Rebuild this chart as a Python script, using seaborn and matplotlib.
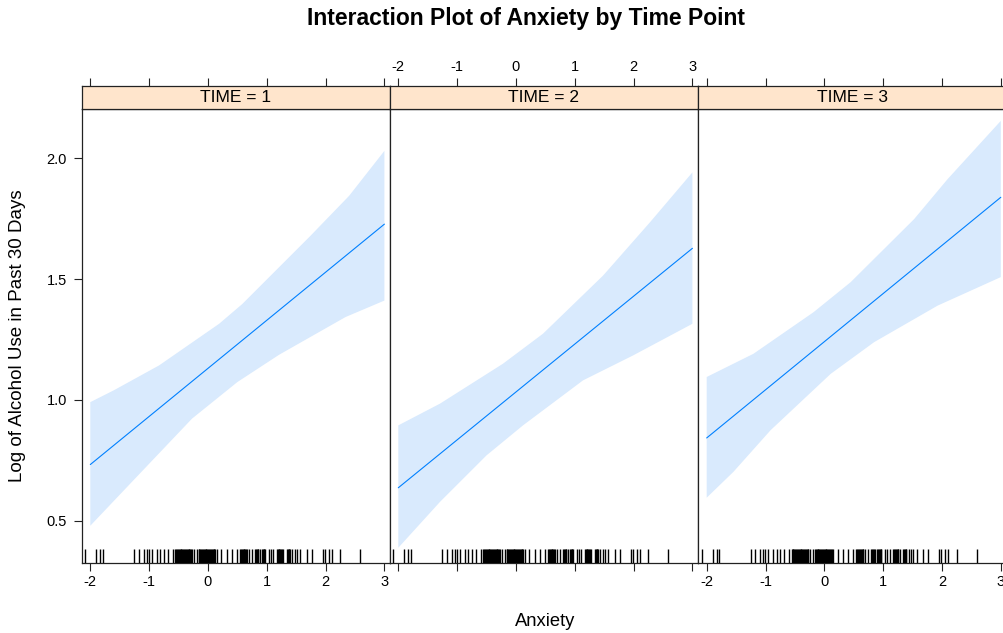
import matplotlib
matplotlib.use("Agg")
import matplotlib.pyplot as plt
import seaborn as sns
import numpy as np
import pandas as pd

# ---------------- data ----------------
panel_labels = ["TIME = 1", "TIME = 2", "TIME = 3"]

line_x = [-2, 3]
line_y_t1 = [0.733, 1.727]
line_y_t2 = [0.637, 1.627]
line_y_t3 = [0.843, 1.838]

upper_x_t1 = [-2.0, -1.60, -0.83, 0.19, 0.585, 1.72, 2.40, 3.0]
upper_y_t1 = [0.991, 1.040, 1.143, 1.315, 1.397, 1.673, 1.844, 2.030]
lower_x_t1 = [-2.0, -1.29, -0.27, 0.50, 1.21, 2.34, 3.0]
lower_y_t1 = [0.480, 0.662, 0.923, 1.074, 1.187, 1.343, 1.411]

upper_x_t2 = [-2.0, -1.29, -0.22, 0.46, 1.48, 2.28, 3.0]
upper_y_t2 = [0.895, 0.985, 1.150, 1.274, 1.514, 1.735, 1.941]
lower_x_t2 = [-2.0, -1.29, -0.50, 0.12, 1.14, 1.99, 3.0]
lower_y_t2 = [0.389, 0.579, 0.771, 0.895, 1.081, 1.184, 1.315]

upper_x_t3 = [-2.0, -1.205, -0.183, 0.447, 1.527, 2.095, 3.0]
upper_y_t3 = [1.095, 1.191, 1.363, 1.487, 1.748, 1.913, 2.154]
lower_x_t3 = [-2.0, -1.545, -0.914, 0.108, 0.846, 1.925, 3.0]
lower_y_t3 = [0.596, 0.703, 0.875, 1.108, 1.239, 1.390, 1.508]

rug_anxiety = [-2.085, -1.90, -1.83, -1.79, -1.25, -1.18, -1.09, -1.04, -1.01,
               -0.95, -0.87, -0.81, -0.75, -0.68, -0.60,
               -0.555, -0.54, -0.525, -0.51, -0.495, -0.48, -0.465, -0.45,
               -0.435, -0.42, -0.405, -0.39, -0.375, -0.36, -0.345, -0.33,
               -0.315, -0.30, -0.285, -0.27, -0.24, -0.185,
               -0.16, -0.145, -0.13, -0.115, -0.10, -0.085, -0.07, -0.055,
               -0.04, -0.025, -0.01, 0.005, 0.02, 0.035, 0.05, 0.065, 0.08,
               0.095, 0.11, 0.125, 0.155, 0.23, 0.325, 0.41, 0.495,
               0.546, 0.56, 0.575, 0.59, 0.605, 0.62, 0.635, 0.65, 0.66,
               0.69, 0.745, 0.80, 0.815, 0.83, 0.845, 0.857, 0.89, 0.915,
               0.93, 0.945, 0.96, 0.97, 1.03, 1.07, 1.11, 1.17, 1.185, 1.20,
               1.215, 1.23, 1.245, 1.255, 1.28, 1.34, 1.355, 1.37, 1.385,
               1.396, 1.435, 1.48, 1.51, 1.57, 1.68, 1.765, 1.95, 1.99, 2.05,
               2.105, 2.25, 2.59]

x_ticks = [-2, -1, 0, 1, 2, 3]
y_ticks = [0.5, 1.0, 1.5, 2.0]
y_tick_labels = ["0.5", "1.0", "1.5", "2.0"]

title = "Interaction Plot of Anxiety by Time Point"
x_label = "Anxiety"
y_label = "Log of Alcohol Use in Past 30 Days"

# ---------------- style ----------------
sns.set_style("white")
plt.rcParams["font.family"] = ["Liberation Sans", "DejaVu Sans"]
plt.rcParams["text.color"] = "black"
plt.rcParams["xtick.color"] = "black"
plt.rcParams["ytick.color"] = "black"
plt.rcParams["axes.labelcolor"] = "black"

LINE_COL = "#0080ff"
BAND_COL = "#d9eafd"
STRIP_COL = "#ffe5cc"
FRAME_COL = "#222222"

W, H = 1004, 633
fig = plt.figure(figsize=(W / 100, H / 100), dpi=100)

def fx(px):
    return px / W

def fy(py):
    return 1 - py / H

panel_left_px = [82, 390, 698.4]
panel_w_px = 308
panel_top_px, panel_bot_px = 109, 563
strip_top_px = 86

xlim = (-2.141, 3.095)
ylim = (0.326, 2.203)

lines = [line_y_t1, line_y_t2, line_y_t3]
uppers = [(upper_x_t1, upper_y_t1), (upper_x_t2, upper_y_t2), (upper_x_t3, upper_y_t3)]
lowers = [(lower_x_t1, lower_y_t1), (lower_x_t2, lower_y_t2), (lower_x_t3, lower_y_t3)]

tick_len = 5.8
for i in range(3):
    left = fx(panel_left_px[i])
    width = fx(panel_w_px)
    ax = fig.add_axes([left, fy(panel_bot_px), width, (panel_bot_px - panel_top_px) / H])
    sax = fig.add_axes([left, fy(panel_top_px), width, (panel_top_px - strip_top_px) / H])

    ux, uy = uppers[i]
    lx, ly = lowers[i]
    poly_x = list(ux) + list(lx)[::-1]
    poly_y = list(uy) + list(ly)[::-1]
    ax.fill(poly_x, poly_y, color=BAND_COL, lw=0, zorder=1)

    df = pd.DataFrame({"x": line_x, "y": lines[i]})
    sns.lineplot(data=df, x="x", y="y", ax=ax, color=LINE_COL, lw=0.8, zorder=3)
    sns.rugplot(x=rug_anxiety, ax=ax, height=0.03, color="black", lw=0.8,
                expand_margins=False, zorder=4)

    ax.set_xlim(xlim)
    ax.set_ylim(ylim)
    ax.set_xlabel("")
    ax.set_ylabel("")
    ax.set_xticks(x_ticks)
    ax.tick_params(axis="x", which="both", direction="out", length=tick_len,
                   width=0.8, color=FRAME_COL, labelsize=10.5, pad=3,
                   bottom=True, top=False, labelbottom=(i != 1))
    ax.set_xticklabels([str(t) for t in x_ticks])
    if i == 0:
        ax.set_yticks(y_ticks)
        ax.set_yticklabels(y_tick_labels)
        ax.tick_params(axis="y", direction="out", length=tick_len, width=0.8,
                       color=FRAME_COL, labelsize=10.5, pad=5, left=True)
    else:
        ax.set_yticks([])
    for sp in ax.spines.values():
        sp.set_color(FRAME_COL)
        sp.set_linewidth(0.9)
        sp.set_visible(True)

    # strip
    sax.set_facecolor(STRIP_COL)
    sax.set_xlim(xlim)
    sax.set_ylim(0, 1)
    sax.set_yticks([])
    sax.set_xticks(x_ticks)
    sax.xaxis.set_ticks_position("top")
    sax.tick_params(axis="x", direction="out", length=tick_len, width=0.8,
                    color=FRAME_COL, labelsize=10.5, pad=3,
                    top=True, bottom=False, labeltop=(i == 1), labelbottom=False)
    sax.set_xticklabels([str(t) for t in x_ticks])
    for sp in sax.spines.values():
        sp.set_color(FRAME_COL)
        sp.set_linewidth(0.9)
        sp.set_visible(True)
    sax.text(0.5, 0.5, panel_labels[i], transform=sax.transAxes, ha="center",
             va="center", fontsize=12.5, color="black")

fig.text(0.5 + fx(24), fy(18), title, ha="center", va="center", fontsize=16.5,
         fontweight="bold")
fig.text(fx(545), fy(621), x_label, ha="center", va="center", fontsize=13.2)
fig.text(fx(18), fy(336), y_label, ha="center", va="center", fontsize=13.5,
         rotation=90)

fig.savefig("out.png", dpi=100)
